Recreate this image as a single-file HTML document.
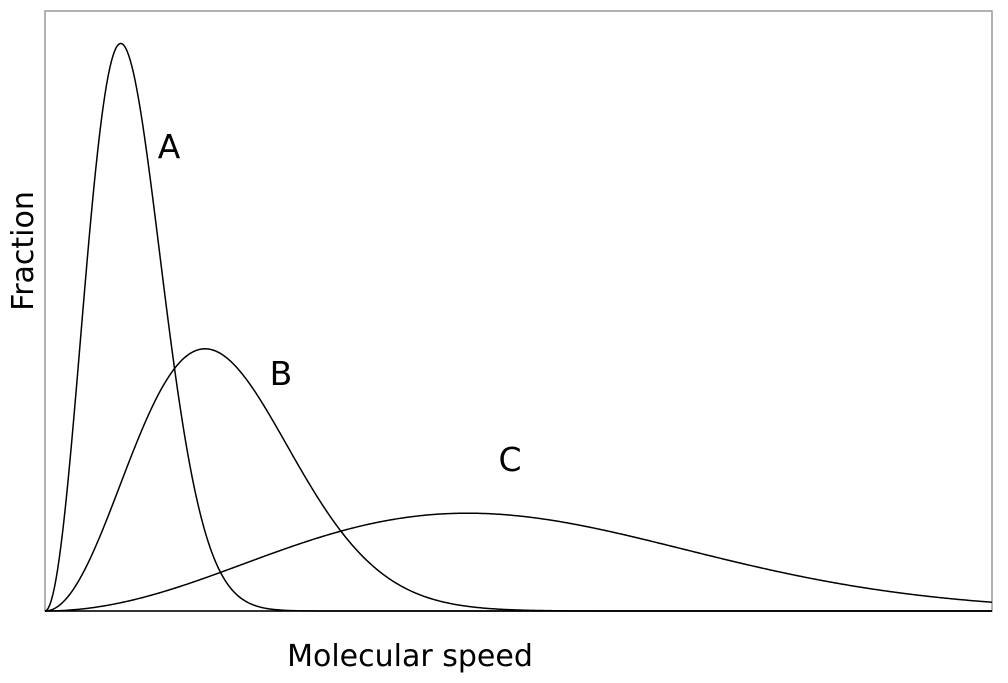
<!DOCTYPE html>
<html><head><meta charset="utf-8"><style>
body{margin:0;background:#fff;width:1008px;height:678px;overflow:hidden}
text{font-family:"DejaVu Sans","Liberation Sans",sans-serif;fill:#000}
</style></head><body>
<svg width="1008" height="678">
<rect x="45" y="11" width="947" height="600" fill="none" stroke="#999" stroke-width="1.5"/>
<line x1="45" y1="611" x2="992" y2="611" stroke="#000" stroke-width="1.5"/>
<g id="curves"></g>
<text x="169" y="158" font-size="33" text-anchor="middle">A</text>
<text x="281" y="385" font-size="33" text-anchor="middle">B</text>
<text x="510" y="471" font-size="33" text-anchor="middle">C</text>
<text x="410" y="666" font-size="30" text-anchor="middle">Molecular speed</text>
<text transform="translate(33,251) rotate(-90)" font-size="30" text-anchor="middle">Fraction</text>
</svg>
<script>
const seriesNames = ["A","B","C"];
const peakSpeed = [8.0, 16.9, 44.6];
const peakFraction = [94.6, 43.7, 16.3];
const xMax = 100, yMax = 100;
const X0 = 45, X1 = 992, Y0 = 611, Y1 = 11;
function sx(v){return X0 + v/xMax*(X1-X0);}
function sy(f){return Y0 - f/yMax*(Y0-Y1);}
const g = document.getElementById('curves');
seriesNames.forEach((n,i)=>{
  let d = "";
  for(let k=0;k<=600;k++){
    const v = k/600*xMax;
    const r = v/peakSpeed[i];
    const f = peakFraction[i]*r*r*Math.exp(1-r*r);
    d += (k?"L":"M")+sx(v).toFixed(2)+","+sy(f).toFixed(2);
  }
  const p = document.createElementNS("http://www.w3.org/2000/svg","path");
  p.setAttribute("d", d);
  p.setAttribute("fill","none");
  p.setAttribute("stroke","#000");
  p.setAttribute("stroke-width","1.5");
  
  
  g.appendChild(p);
});
</script>
</body></html>
